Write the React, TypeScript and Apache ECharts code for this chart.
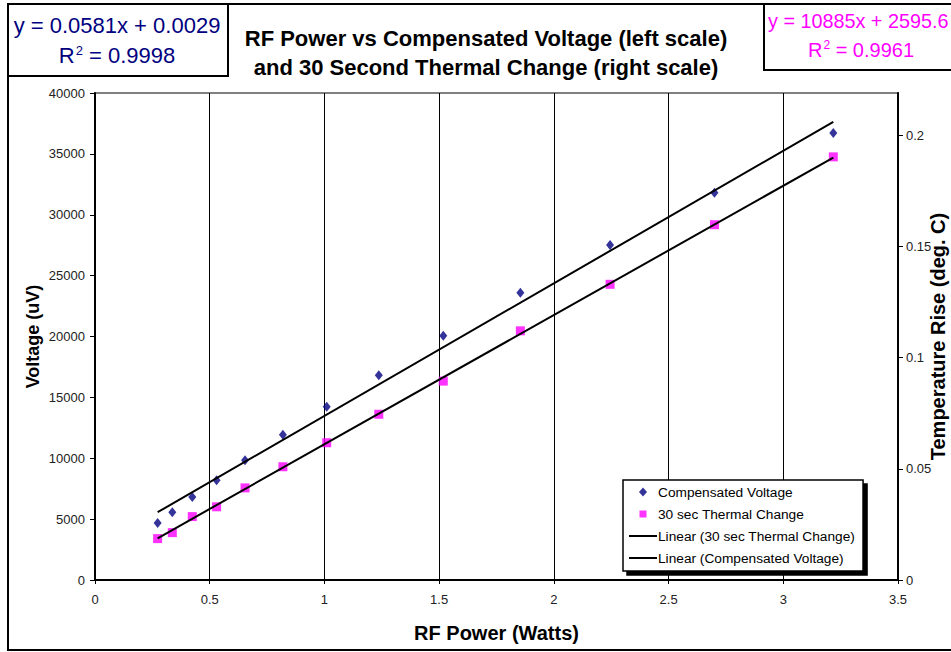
import React, { useEffect, useRef } from "react";
import * as echarts from "echarts";

const rfPower = [0.273, 0.337, 0.424, 0.530, 0.654, 0.819, 1.010, 1.237, 1.518, 1.854, 2.245, 2.700, 3.218];
const compensatedVoltage = [4680, 5560, 6820, 8190, 9830, 11930, 14230, 16810, 20070, 23600, 27520, 31810, 36720];
const thermalChange = [0.0186, 0.0213, 0.0285, 0.0329, 0.0414, 0.0509, 0.0617, 0.0745, 0.0894, 0.1120, 0.1329, 0.1597, 0.1902];
const voltageFit = { slope: 10885, intercept: 2595.6, r2: "0.9961" };
const thermalFit = { slope: 0.0581, intercept: 0.0029, r2: "0.9998" };
const xTicks = [0, 0.5, 1, 1.5, 2, 2.5, 3, 3.5];
const rightTicks = [0, 0.05, 0.1, 0.15, 0.2];

const FONT = "'Liberation Sans', Arial, sans-serif";

const ICON_LINE = "path://M0,0M28,16M0,7L28,7L28,9L0,9Z";
const ICON_DIAMOND = "path://M0,0M28,16M14,3.5L18,8L14,12.5L10,8Z";
const ICON_SQUARE = "path://M0,0M28,16M10.5,4.5L17.5,4.5L17.5,11.5L10.5,11.5Z";

export default function App() {
  const ref = useRef<HTMLDivElement>(null);
  useEffect(() => {
    document.body.style.margin = "0";
    const chart = echarts.init(ref.current!, null, { renderer: "svg" });
    const xMin = Math.min(...rfPower);
    const xMax = Math.max(...rfPower);
    const vLine = [xMin, xMax].map((x) => [x, voltageFit.slope * x + voltageFit.intercept]);
    const tLine = [xMin, xMax].map((x) => [x, thermalFit.slope * x + thermalFit.intercept]);
    const eqRich = (color: string, size: number) => ({
      a: { fontSize: size, fontFamily: FONT, fill: color },
      s: { fontSize: Math.round(size * 0.6), fontFamily: FONT, fill: color, verticalAlign: "top", padding: [0, 0, 10, 1] },
    });
    chart.setOption({
      animation: false,
      backgroundColor: "#ffffff",
      textStyle: { fontFamily: FONT },
      grid: {
        left: 95,
        right: 53,
        top: 93,
        bottom: 72,
        outerBoundsMode: "none",
        containLabel: false,
        show: true,
        borderColor: "#808080",
        borderWidth: 2,
        backgroundColor: "transparent",
      },
      xAxis: {
        type: "value",
        min: 0,
        max: 3.5,
        interval: 0.5,
        name: "RF Power (Watts)",
        nameLocation: "middle",
        nameGap: 43,
        nameMoveOverlap: false,
        nameTextStyle: { fontSize: 20, fontWeight: "bold", color: "#000", fontFamily: FONT },
        axisLine: { show: true, onZero: false, lineStyle: { color: "#000", width: 2 } },
        axisTick: { show: true, length: 4, lineStyle: { color: "#000" } },
        axisLabel: { fontSize: 13, color: "#222", margin: 13, fontFamily: FONT, customValues: xTicks, formatter: (v: number) => String(v) },
        splitLine: { show: true, lineStyle: { color: "#000", width: 1 } },
      },
      yAxis: [
        {
          type: "value",
          min: 0,
          max: 40000,
          interval: 5000,
          position: "left",
          name: "Voltage (uV)",
          nameLocation: "middle",
          nameGap: 53,
          nameMoveOverlap: false,
          nameRotate: 90,
          nameTextStyle: { fontSize: 18, fontWeight: "bold", color: "#000", fontFamily: FONT },
          axisLine: { show: true, lineStyle: { color: "#000", width: 2 } },
          axisTick: { show: true, length: 5, lineStyle: { color: "#000" } },
          axisLabel: { fontSize: 13, color: "#222", margin: 10, fontFamily: FONT, formatter: (v: number) => String(v) },
          splitLine: { show: false },
        },
        {
          type: "value",
          min: 0,
          max: 0.2189,
          interval: 0.05,
          position: "right",
          name: "Temperature Rise (deg. C)",
          nameLocation: "middle",
          nameGap: 30,
          nameMoveOverlap: false,
          nameRotate: 90,
          nameTextStyle: { fontSize: 20, fontWeight: "bold", color: "#000", fontFamily: FONT },
          axisLine: { show: true, lineStyle: { color: "#000", width: 2 } },
          axisTick: { show: true, length: 5, lineStyle: { color: "#000" }, customValues: rightTicks },
          axisLabel: { fontSize: 13, color: "#222", margin: 8, fontFamily: FONT, customValues: rightTicks, formatter: (v: number) => String(v) },
          splitLine: { show: false },
        },
      ],
      legend: {
        orient: "vertical",
        left: 623,
        top: 480,
        padding: [4, 8, 5, 6],
        itemGap: 6,
        itemWidth: 28,
        itemHeight: 16,
        symbolKeepAspect: false,
        backgroundColor: "#fff",
        borderColor: "#000",
        borderWidth: 1.5,
        shadowColor: "#000",
        shadowOffsetX: 4,
        shadowOffsetY: 4,
        textStyle: { fontSize: 13.7, color: "#000", fontFamily: FONT, padding: [0, 0, 0, -4] },
        data: [
          { name: "Compensated Voltage", icon: ICON_DIAMOND, itemStyle: { color: "#000080" } },
          { name: "30 sec Thermal Change", icon: ICON_SQUARE, itemStyle: { color: "#ff00ff" } },
          { name: "Linear (30 sec Thermal Change)", icon: ICON_LINE, itemStyle: { color: "#000" } },
          { name: "Linear (Compensated Voltage)", icon: ICON_LINE, itemStyle: { color: "#000" } },
        ],
      },
      graphic: [
        {
          type: "rect",
          shape: { x: 8, y: 4, width: 970, height: 646 },
          style: { fill: "none", stroke: "#000", lineWidth: 2 },
          silent: true,
          z: -10,
        },
        {
          type: "rect",
          shape: { x: 8, y: 4, width: 220, height: 72 },
          style: { fill: "#fff", stroke: "#000", lineWidth: 2 },
          z: 10,
        },
        {
          type: "text",
          x: 117,
          y: 25,
          z: 11,
          style: { text: "y = 0.0581x + 0.0029", align: "center", verticalAlign: "middle", font: `22px ${FONT}`, fill: "#000080" },
        },
        {
          type: "text",
          x: 117,
          y: 55,
          z: 11,
          style: {
            text: `{a|R}{s|2}{a| = ${thermalFit.r2}}`,
            align: "center",
            verticalAlign: "middle",
            rich: eqRich("#000080", 22),
          },
        },
        {
          type: "rect",
          shape: { x: 764, y: 4, width: 220, height: 66 },
          style: { fill: "#fff", stroke: "#000", lineWidth: 2 },
          z: 10,
        },
        {
          type: "text",
          x: 768,
          y: 21,
          z: 11,
          style: { text: "y = 10885x + 2595.6", align: "left", verticalAlign: "middle", font: `19.8px ${FONT}`, fill: "#ff00ff" },
        },
        {
          type: "text",
          x: 861,
          y: 50,
          z: 11,
          style: {
            text: `{a|R}{s|2}{a| = ${voltageFit.r2}}`,
            align: "center",
            verticalAlign: "middle",
            rich: eqRich("#ff00ff", 20),
          },
        },
        {
          type: "text",
          x: 486,
          y: 38,
          z: 11,
          style: {
            text: "RF Power vs Compensated Voltage (left scale)",
            align: "center",
            verticalAlign: "middle",
            font: `bold 22px ${FONT}`,
            fill: "#000",
          },
        },
        {
          type: "text",
          x: 486,
          y: 67,
          z: 11,
          style: {
            text: "and 30 Second Thermal Change (right scale)",
            align: "center",
            verticalAlign: "middle",
            font: `bold 22px ${FONT}`,
            fill: "#000",
          },
        },
      ],
      series: [
        {
          name: "Compensated Voltage",
          type: "scatter",
          yAxisIndex: 0,
          symbol: "diamond",
          symbolSize: [8, 10],
          itemStyle: { color: "#000080" },
          data: rfPower.map((x, i) => [x, compensatedVoltage[i]]),
          z: 3,
        },
        {
          name: "30 sec Thermal Change",
          type: "scatter",
          yAxisIndex: 1,
          symbol: "rect",
          symbolSize: 9,
          itemStyle: { color: "#ff00ff" },
          data: rfPower.map((x, i) => [x, thermalChange[i]]),
          z: 3,
        },
        {
          name: "Linear (30 sec Thermal Change)",
          type: "line",
          yAxisIndex: 1,
          symbol: "none",
          lineStyle: { color: "#000", width: 2 },
          itemStyle: { color: "#000" },
          data: tLine,
          z: 4,
        },
        {
          name: "Linear (Compensated Voltage)",
          type: "line",
          yAxisIndex: 0,
          symbol: "none",
          lineStyle: { color: "#000", width: 2 },
          itemStyle: { color: "#000" },
          data: vLine,
          z: 4,
        },
      ],
    });
    return () => chart.dispose();
  }, []);
  return <div ref={ref} style={{ width: 951, height: 652 }} />;
}
